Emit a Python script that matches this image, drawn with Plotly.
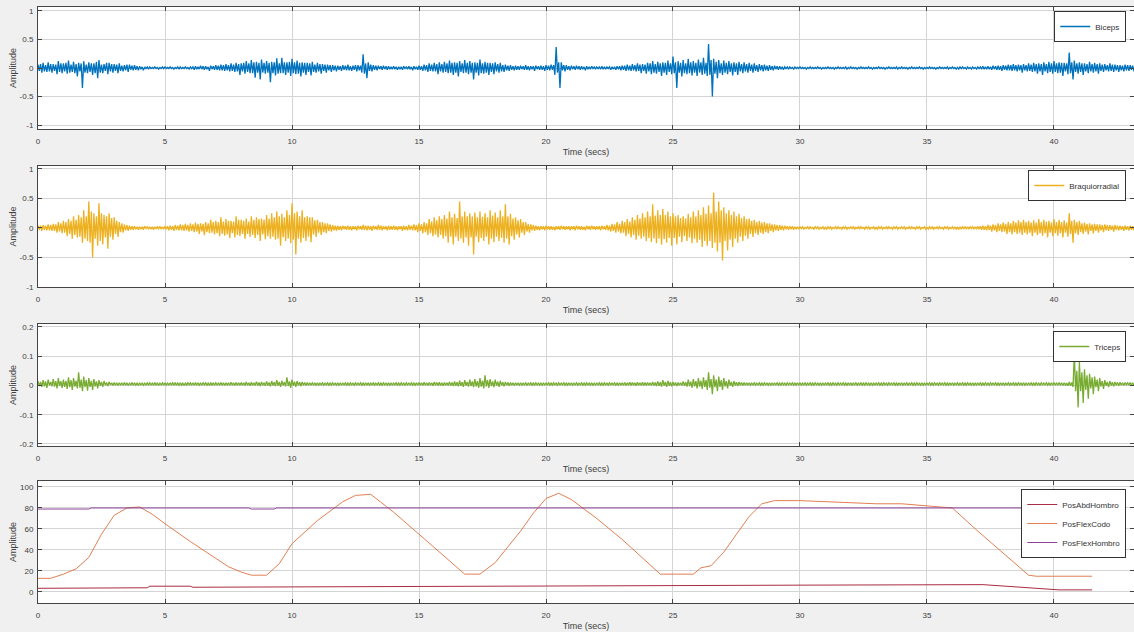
import numpy as np
import plotly.graph_objects as go
from plotly.subplots import make_subplots

# ---------------- DATA ----------------
DT = 0.05  # seconds between listed samples

# Biceps EMG samples, units of 0.01 (one row = one second)
biceps_c = [
    6,-5,7,-8,9,-6,5,-7,10,-6,7,-8,7,-5,6,-11,12,-7,8,-9,
    8,-6,9,-10,13,-8,6,-7,11,-9,7,-15,9,-6,8,-35,12,-8,6,-9,
    10,-7,8,-12,8,-9,11,-18,14,-8,6,-9,7,-5,9,-11,9,-6,7,-8,
    7,-5,6,-9,8,-5,4,-6,5,-4,6,-7,6,-3,4,-4,5,-3,3,-4,
    3,-2,2,-4,2,-1,2,-2,2,-1,1,-1,2,-1,1,-2,1,-1,2,-1,
    2,-1,1,-1,2,-1,1,-2,1,-1,2,-2,2,-1,1,-1,2,-1,1,-2,
    2,-1,2,-3,3,-2,2,-2,4,-2,3,-3,3,-2,2,-5,4,-2,3,-3,
    5,-3,4,-4,6,-4,5,-5,7,-4,5,-6,8,-5,6,-7,9,-6,7,-12,
    8,-6,9,-10,12,-7,8,-9,14,-9,10,-17,11,-8,9,-20,15,-8,9,-10,
    12,-8,9,-25,11,-9,10,-13,17,-10,8,-9,18,-9,10,-12,10,-8,11,-14,
    16,-9,10,-11,13,-10,9,-15,10,-8,9,-12,9,-7,8,-13,11,-7,6,-8,
    9,-6,7,-10,7,-5,6,-8,6,-4,5,-7,5,-4,4,-6,4,-3,3,-5,
    5,-3,4,-4,6,-4,3,-5,4,-3,5,-6,5,-4,4,-8,24,-10,8,-18,
    10,-5,6,-6,5,-3,4,-4,4,-2,3,-3,4,-2,3,-3,3,-2,2,-2,
    3,-2,2,-3,2,-2,2,-3,3,-1,2,-2,3,-2,2,-4,3,-2,2,-3,
    4,-3,3,-5,6,-4,5,-7,8,-5,6,-6,9,-6,7,-11,10,-6,7,-8,
    11,-7,8,-9,13,-8,9,-12,10,-8,9,-15,12,-7,8,-9,14,-8,9,-11,
    12,-8,9,-20,10,-8,9,-13,15,-9,8,-10,11,-8,9,-12,9,-7,8,-11,
    10,-6,7,-8,9,-6,5,-7,6,-4,4,-5,5,-3,3,-4,4,-3,3,-3,
    4,-2,3,-3,5,-3,3,-4,3,-2,3,-5,4,-2,3,-3,4,-3,3,-5,
    5,-3,4,-4,6,-3,5,-12,37,-8,10,-35,10,-4,5,-6,5,-3,3,-4,
    4,-2,3,-3,4,-2,3,-3,3,-2,2,-4,3,-2,2,-2,3,-1,2,-2,
    2,-1,2,-2,3,-2,2,-2,2,-1,2,-3,2,-2,2,-3,3,-2,3,-4,
    4,-3,4,-5,6,-4,4,-5,7,-4,5,-6,8,-5,6,-9,7,-5,6,-10,
    9,-6,8,-11,12,-8,7,-10,11,-7,8,-14,10,-8,9,-12,13,-7,8,-11,
    20,-9,10,-35,12,-8,9,-15,14,-9,8,-11,16,-9,10,-13,12,-8,9,-14,
    15,-8,10,-12,18,-10,9,-14,42,-12,14,-50,16,-10,11,-18,14,-9,8,-12,
    13,-8,9,-11,12,-7,8,-13,10,-7,8,-12,11,-6,7,-9,10,-6,7,-8,
    9,-5,6,-8,8,-5,5,-7,7,-4,5,-6,6,-4,4,-5,5,-3,3,-4,
    4,-2,3,-3,3,-2,2,-3,2,-1,2,-2,2,-1,1,-2,2,-1,1,-1,
    2,-1,1,-1,1,-2,1,-1,2,-1,1,-1,1,-1,2,-1,1,-2,1,-1,
    1,-1,2,-1,1,-1,1,-2,1,-1,2,-1,1,-1,1,-1,2,-2,1,-1,
    2,-1,1,-1,1,-2,1,-1,2,-1,1,-1,1,-1,2,-1,1,-2,1,-1,
    1,-1,2,-1,1,-1,1,-2,1,-1,2,-1,1,-1,1,-1,2,-2,1,-1,
    2,-1,1,-1,1,-2,1,-1,2,-1,1,-1,1,-1,2,-1,1,-2,1,-1,
    1,-1,2,-1,1,-1,1,-2,1,-1,2,-1,1,-1,1,-1,2,-2,1,-1,
    2,-1,1,-2,1,-2,2,-1,2,-1,1,-2,2,-1,1,-2,2,-1,1,-2,
    2,-1,2,-2,3,-2,2,-2,3,-2,2,-3,4,-2,3,-3,4,-3,3,-5,
    5,-3,4,-4,6,-4,5,-5,7,-4,5,-6,6,-4,5,-8,7,-4,5,-6,
    8,-5,6,-7,9,-6,7,-10,8,-6,7,-12,10,-6,7,-9,11,-7,8,-10,
    12,-7,8,-9,10,-8,9,-14,9,-6,8,-11,27,-9,10,-20,13,-7,8,-10,
    10,-7,8,-12,8,-6,7,-9,11,-6,7,-8,9,-6,7,-10,8,-5,6,-7,
    7,-4,5,-6,8,-5,6,-7,6,-4,5,-7,5,-4,4,-6,6,-4,5,-5,
    5,-3,4,-6,4,
]

# Braquiorradial EMG samples, units of 0.01
braq_c = [
    4,-3,4,-5,5,-3,4,-4,6,-4,5,-5,7,-5,6,-8,10,-6,8,-9,
    12,-8,10,-14,15,-10,12,-18,20,-12,14,-16,22,-15,18,-25,30,-18,20,-22,
    45,-25,28,-50,25,-18,20,-30,42,-22,25,-28,22,-16,20,-35,25,-15,17,-20,
    18,-10,12,-15,10,-7,8,-8,6,-4,5,-5,4,-3,3,-3,3,-2,2,-3,
    2,-2,2,-3,3,-1,2,-2,2,-2,2,-3,2,-1,2,-2,3,-2,2,-2,
    3,-2,3,-4,4,-3,3,-5,5,-3,4,-4,6,-4,5,-5,7,-4,5,-6,
    8,-5,6,-7,9,-6,7,-10,8,-6,7,-12,10,-7,8,-9,14,-8,10,-11,
    12,-9,10,-14,18,-10,11,-13,15,-11,12,-17,12,-9,11,-16,20,-12,14,-14,
    14,-10,12,-18,16,-10,11,-15,20,-12,14,-17,18,-12,15,-22,16,-11,14,-19,
    22,-14,16,-18,25,-15,18,-20,28,-18,20,-30,24,-16,18,-22,30,-18,22,-26,
    42,-20,25,-45,28,-18,20,-25,30,-17,18,-22,20,-15,18,-24,18,-11,13,-15,
    14,-8,10,-12,10,-7,8,-9,8,-5,6,-6,5,-4,4,-5,4,-3,3,-4,
    4,-2,3,-3,4,-3,3,-4,3,-2,3,-4,4,-2,3,-3,5,-3,4,-4,
    4,-3,3,-5,4,-2,3,-3,5,-3,4,-4,3,-2,3,-4,4,-3,3,-3,
    4,-3,3,-4,3,-2,3,-5,4,-3,3,-4,5,-3,4,-4,6,-4,5,-7,
    8,-5,6,-9,10,-7,8,-12,15,-9,11,-14,18,-11,13,-16,20,-12,15,-18,
    22,-14,16,-25,28,-15,18,-28,24,-15,17,-22,45,-18,20,-25,28,-16,20,-30,
    25,-16,20,-45,26,-15,18,-24,28,-17,19,-22,25,-15,18,-28,30,-18,21,-24,
    26,-15,18,-22,30,-17,20,-25,40,-18,20,-28,24,-14,16,-20,18,-11,13,-16,
    15,-8,10,-12,10,-6,7,-8,6,-4,5,-5,4,-3,3,-4,3,-2,3,-4,
    4,-2,3,-3,3,-3,2,-4,3,-2,3,-3,4,-2,3,-3,3,-2,3,-4,
    3,-2,3,-4,4,-2,3,-3,3,-3,2,-4,4,-2,3,-3,4,-2,3,-3,
    3,-2,3,-4,4,-2,3,-3,5,-4,4,-6,7,-5,6,-8,10,-6,7,-9,
    12,-8,10,-14,15,-10,11,-16,18,-12,14,-20,22,-13,16,-18,25,-15,18,-22,
    28,-17,20,-24,40,-18,21,-26,30,-18,22,-28,32,-19,22,-25,28,-17,20,-30,
    25,-17,20,-28,22,-15,17,-24,20,-14,16,-22,24,-16,18,-26,28,-18,20,-25,
    30,-20,22,-32,35,-22,24,-30,38,-22,25,-34,60,-25,28,-40,45,-25,30,-55,
    35,-22,25,-38,30,-20,22,-32,28,-18,20,-25,24,-15,17,-22,20,-13,15,-18,
    16,-10,12,-15,14,-9,10,-12,12,-8,9,-10,10,-7,8,-9,8,-5,6,-7,
    6,-4,5,-5,5,-3,4,-4,4,-2,3,-3,3,-2,3,-3,2,-2,2,-2,
    2,-1,2,-2,1,-1,2,-2,2,-1,1,-2,2,-1,2,-2,1,-1,2,-2,
    1,-2,2,-1,2,-2,1,-1,2,-2,2,-1,1,-2,2,-1,2,-2,1,-1,
    2,-1,2,-2,1,-1,2,-2,2,-1,1,-2,2,-1,2,-2,1,-1,2,-2,
    1,-2,2,-1,2,-2,1,-1,2,-2,2,-1,1,-2,2,-1,2,-2,1,-1,
    2,-1,2,-2,1,-1,2,-2,2,-1,1,-2,2,-1,2,-2,1,-1,2,-2,
    1,-2,2,-1,2,-2,1,-1,2,-2,2,-1,1,-2,2,-1,2,-2,1,-1,
    2,-2,2,-2,1,-2,2,-2,2,-1,2,-2,2,-2,2,-1,2,-2,2,-2,
    3,-2,3,-3,4,-3,3,-4,5,-3,4,-6,6,-4,5,-7,8,-5,6,-7,
    9,-6,7,-10,10,-7,8,-11,12,-7,9,-10,13,-8,10,-12,14,-8,10,-11,
    12,-8,9,-14,13,-8,9,-12,15,-9,10,-13,14,-9,11,-16,12,-8,9,-14,
    15,-9,10,-13,14,-9,10,-16,13,-8,9,-15,25,-10,12,-25,14,-9,10,-12,
    12,-7,8,-10,9,-6,7,-11,8,-5,6,-9,7,-5,6,-8,6,-4,5,-7,
    6,-4,5,-5,5,-3,4,-6,5,-3,4,-4,4,-3,3,-5,4,-3,3,-4,
    4,-3,3,-4,3,
]

# Triceps EMG samples, units of 0.001
triceps_m = [
    15,-2,12,-5,18,-3,14,-8,20,0,12,-3,22,-4,15,-10,25,-2,15,-8,
    20,-5,16,-12,28,-6,18,-15,25,-4,16,-10,45,-8,20,-20,30,-6,18,-18,
    25,-5,16,-15,22,-3,14,-10,18,-1,12,-5,15,1,10,-2,12,2,9,0,
    10,1,9,0,9,2,8,1,10,1,9,0,8,2,9,1,9,1,8,0,
    9,2,8,1,8,2,9,1,9,2,8,1,10,1,9,0,8,2,9,1,
    9,1,8,2,8,2,9,1,10,1,8,1,9,1,8,0,8,1,9,2,
    9,2,8,1,10,1,9,1,8,2,9,2,9,1,8,0,10,1,9,1,
    9,2,8,1,10,1,9,0,9,2,8,1,11,1,9,0,10,1,9,1,
    10,1,9,0,12,1,9,-1,11,1,9,0,13,0,10,-2,12,1,9,-1,
    14,0,10,-3,15,0,11,-2,18,-1,12,-5,16,0,11,-3,28,-2,14,-8,
    20,-1,13,-5,15,0,11,-2,12,1,10,0,10,1,9,1,9,2,8,1,
    9,1,8,2,9,1,8,2,9,1,8,1,9,2,8,1,9,1,8,2,
    8,2,9,1,8,1,9,2,8,1,9,2,8,2,9,1,8,1,9,1,
    9,1,8,2,9,1,8,2,9,1,8,1,9,2,8,1,9,1,8,2,
    8,2,9,1,8,1,9,2,8,1,9,2,8,2,9,1,8,1,9,1,
    10,1,9,0,11,1,9,0,10,1,9,-1,12,1,10,0,11,0,9,-1,
    10,1,9,0,12,0,10,-2,14,-1,11,-3,16,-1,11,-5,18,-1,12,-4,
    20,-2,14,-6,22,-3,15,-8,25,-4,16,-10,35,-3,18,-8,22,-2,14,-6,
    20,-1,13,-5,16,0,11,-3,12,1,10,-1,10,1,9,0,9,2,8,1,
    9,1,8,2,9,1,8,2,9,1,8,1,9,2,8,1,9,1,8,2,
    8,2,9,1,8,1,9,2,8,1,9,2,8,2,9,1,8,1,9,1,
    9,1,8,2,9,1,8,2,9,1,8,1,9,2,8,1,9,1,8,2,
    8,2,9,1,8,1,9,2,8,1,9,2,8,2,9,1,8,1,9,1,
    9,1,10,0,9,1,11,0,10,1,9,-1,11,1,9,0,11,0,10,0,
    10,1,9,0,12,0,10,-2,14,-1,11,-4,18,-1,12,-5,16,-1,11,-3,
    12,0,10,-2,10,1,9,0,14,-1,11,-4,20,-2,13,-8,22,-3,15,-10,
    25,-4,16,-12,28,-5,18,-15,45,-8,22,-30,35,-6,20,-20,30,-5,18,-15,
    25,-3,15,-10,20,-1,12,-5,15,0,11,-2,12,1,10,0,10,1,9,1,
    9,1,8,2,9,1,8,2,9,1,8,1,9,2,8,1,9,1,8,2,
    8,2,9,1,8,1,9,2,8,1,9,2,8,2,9,1,8,1,9,1,
    9,1,8,2,9,1,8,2,9,1,8,1,9,2,8,1,9,1,8,2,
    8,2,9,1,8,1,9,2,8,1,9,2,8,2,9,1,8,1,9,1,
    9,1,8,2,9,1,8,2,9,1,8,1,9,2,8,1,9,1,8,2,
    8,2,9,1,8,1,9,2,8,1,9,2,8,2,9,1,8,1,9,1,
    9,1,8,2,9,1,8,2,9,1,8,1,9,2,8,1,9,1,8,2,
    8,2,9,1,8,1,9,2,8,1,9,2,8,2,9,1,8,1,9,1,
    9,1,8,2,9,1,8,2,9,1,8,1,9,2,8,1,9,1,8,2,
    8,2,9,1,8,1,9,2,8,1,9,2,8,2,9,1,8,1,9,1,
    9,1,8,2,9,1,8,2,9,1,8,1,9,2,8,1,9,1,8,2,
    8,2,9,1,8,1,9,2,8,1,9,2,8,2,9,1,8,1,9,1,
    9,2,8,1,10,1,9,0,9,1,8,-1,12,-1,10,-5,110,-20,50,-75,
    80,-20,45,-60,55,-15,35,-45,40,-10,28,-30,30,-6,20,-20,25,-3,15,-12,
    18,-1,12,-6,15,0,11,-3,12,1,10,-1,11,1,9,0,10,2,9,1,
    10,1,9,0,9,
]

# Joint positions (degrees)
codo_t = [0, 0.5, 1.0, 1.5, 2.0, 2.5, 3.0, 3.5, 4.0, 4.5, 5.0, 6.0, 7.0, 7.5, 8.0,
          8.4, 9.0, 9.5, 10.0, 11.0, 12.0, 12.5, 13.1, 14.0, 15.0, 16.0, 16.8, 17.4,
          18.0, 19.0, 19.5, 20.0, 20.5, 21.0, 22.0, 23.0, 24.0, 24.5, 25.8, 26.1, 26.5,
          27.0, 27.5, 28.0, 28.5, 29.0, 30.0, 31.0, 32.0, 33.0, 34.0, 35.0, 35.6, 36.0,
          37.0, 38.0, 39.0, 39.3, 41.5]
codo_v = [13, 13, 17, 22, 33, 55, 73, 80, 81, 74, 65, 48, 32, 24, 19,
          16, 16, 27, 46, 68, 86, 92, 93, 76, 55, 34, 17, 17,
          28, 58, 75, 89, 94, 88, 70, 50, 28, 17, 17, 23, 25,
          38, 55, 72, 84, 87, 87, 86, 85, 84, 84, 82, 81, 80,
          58, 37, 16, 15, 15]

abd_t = [0, 2.7, 2.8, 4.3, 4.4, 6.0, 6.1, 15.0, 20.0, 30.0, 37.2, 40.2, 41.5]
abd_v = [3.5, 3.5, 4, 4, 5.5, 5.5, 4.5, 5, 5.5, 6.5, 7, 2, 2]

hombro_t = [0, 2.0, 2.1, 8.3, 8.4, 9.3, 9.4, 25.0, 38.8]
hombro_v = [79, 79, 80, 80, 79, 79, 80, 80, 80]

x_ticks = [0, 5, 10, 15, 20, 25, 30, 35, 40]

# ---------------- FIGURE ----------------
biceps = [v / 100 for v in biceps_c]
braq = [v / 100 for v in braq_c]
triceps = [v / 1000 for v in triceps_m]

fig = make_subplots(rows=4, cols=1)


def add_emg(values, name, color, legend, row):
    t = np.arange(len(values)) * DT
    fig.add_trace(go.Scatter(x=t, y=values, mode="lines", name=name,
                             line=dict(color=color, width=1.3, simplify=False),
                             legend=legend), row=row, col=1)


add_emg(biceps, "Biceps", "#0072BD", "legend", 1)
add_emg(braq, "Braquiorradial", "#EDB120", "legend2", 2)
add_emg(triceps, "Triceps", "#77AC30", "legend3", 3)

fig.add_trace(go.Scatter(x=abd_t, y=abd_v, mode="lines", name="PosAbdHombro",
                         line=dict(color="#A2142F", width=0.9), legend="legend4"), row=4, col=1)
fig.add_trace(go.Scatter(x=codo_t, y=codo_v, mode="lines", name="PosFlexCodo",
                         line=dict(color="#DE7040", width=0.9), legend="legend4"), row=4, col=1)
fig.add_trace(go.Scatter(x=hombro_t, y=hombro_v, mode="lines", name="PosFlexHombro",
                         line=dict(color="#7E2F8E", width=0.9), legend="legend4"), row=4, col=1)

H = 632
panels = [(7, 129, [-1.07, 1.07], [-1, -0.5, 0, 0.5, 1], ["-1", "-0.5", "0", "0.5", "1"]),
          (166, 287, [-1.0, 1.05], [-1, -0.5, 0, 0.5, 1], ["-1", "-0.5", "0", "0.5", "1"]),
          (324, 446, [-0.207, 0.21], [-0.2, -0.1, 0, 0.1, 0.2], ["-0.2", "-0.1", "0", "0.1", "0.2"]),
          (481, 603, [-10.5, 105.7], [0, 20, 40, 60, 80, 100], ["0", "20", "40", "60", "80", "100"])]

FONT = "Liberation Sans, Arial, sans-serif"
tick_font = dict(family=FONT, size=8, color="#404040")
for i, (top, bot, yr, yt, ytl) in enumerate(panels, start=1):
    fig.update_yaxes(row=i, col=1, domain=[1 - bot / H, 1 - top / H], range=yr,
                     tickvals=yt, ticktext=ytl, showgrid=True, gridcolor="#d4d4d4", gridwidth=1,
                     zeroline=False, showline=True, linecolor="#444444", linewidth=1,
                     mirror="ticks", ticks="inside", ticklen=4, tickcolor="#444444",
                     tickfont=tick_font, automargin=False, ticklabelstandoff=2,
                     title=dict(text="Amplitude", font=dict(family=FONT, size=9, color="#404040"),
                                standoff=1))
    fig.update_xaxes(row=i, col=1, range=[0, 43.15], tickvals=x_ticks,
                     showgrid=True, gridcolor="#d4d4d4", gridwidth=1,
                     zeroline=False, showline=True, linecolor="#444444", linewidth=1,
                     mirror="ticks", ticks="inside", ticklen=4, tickcolor="#444444",
                     tickfont=tick_font, automargin=False, ticklabelstandoff=4,
                     title=dict(text="Time (secs)", font=dict(family=FONT, size=9, color="#404040"),
                                standoff=4))

leg_common = dict(bgcolor="white", bordercolor="#333333", borderwidth=1,
                  font=dict(family=FONT, size=8, color="#333333"),
                  xanchor="right", yanchor="top", x=1126 / 1134, tracegroupgap=0,
                  itemwidth=30)

fig.update_layout(
    width=1134, height=632,
    margin=dict(l=38, r=0, t=0, b=0, autoexpand=False),
    paper_bgcolor="#f0f0f0", plot_bgcolor="white",
    showlegend=True,
    legend=dict(**leg_common, y=1 - 11 / H),
    legend2=dict(**leg_common, y=1 - 170 / H),
    legend3=dict(**leg_common, y=1 - 331 / H),
    legend4=dict(**leg_common, y=1 - 489 / H),
)

fig.write_html("out.html", config={"displayModeBar": False},
               post_script="document.body.style.margin='0';document.body.style.overflow='hidden';")
